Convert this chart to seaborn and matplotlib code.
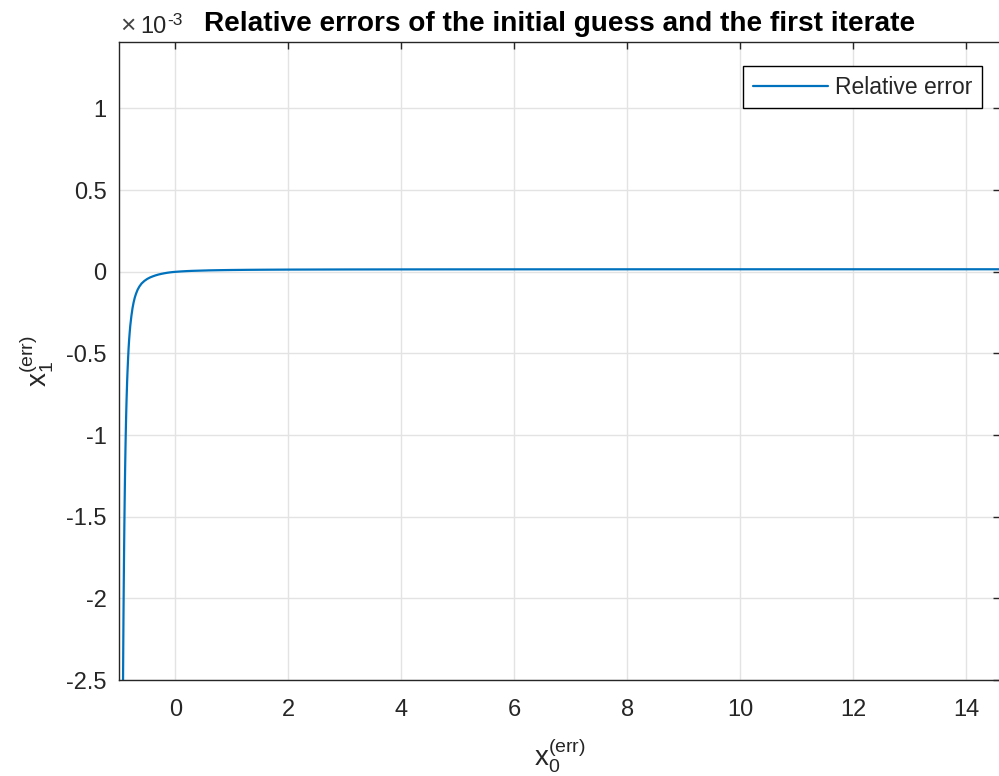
import numpy as np
import pandas as pd
import matplotlib
matplotlib.use("Agg")
import matplotlib.pyplot as plt
import seaborn as sns
from matplotlib.ticker import FuncFormatter, FixedLocator

# Relative error of the initial guess vs. relative error after one iteration
x0_err = [-0.95, -0.94, -0.93, -0.925, -0.92, -0.915, -0.91, -0.905, -0.90,
          -0.895, -0.89, -0.885, -0.88, -0.875, -0.87, -0.865, -0.86, -0.855,
          -0.85, -0.84, -0.83, -0.82, -0.81, -0.80, -0.78, -0.76, -0.74,
          -0.72, -0.70, -0.67, -0.64, -0.60, -0.55, -0.50, -0.45, -0.40,
          -0.35, -0.30, -0.25, -0.20, -0.15, -0.10, -0.05, 0.0, 0.1, 0.2,
          0.3, 0.45, 0.6, 0.8, 1.0, 1.3, 1.6, 2.0, 3.0, 4.0, 6.0, 8.0,
          10.0, 12.0, 14.6]
x1_err = [-6.00e-3, -3.80e-3, -2.60e-3, -2.34e-3, -2.10e-3, -1.90e-3,
          -1.72e-3, -1.56e-3, -1.42e-3, -1.29e-3, -1.18e-3, -1.08e-3,
          -0.99e-3, -0.91e-3, -0.84e-3, -0.775e-3, -0.72e-3, -0.665e-3,
          -0.62e-3, -0.54e-3, -0.47e-3, -0.415e-3, -0.37e-3, -0.33e-3,
          -0.27e-3, -0.222e-3, -0.186e-3, -0.158e-3, -0.136e-3, -0.110e-3,
          -0.091e-3, -0.072e-3, -0.056e-3, -0.044e-3, -0.035e-3, -0.028e-3,
          -0.022e-3, -0.017e-3, -0.013e-3, -0.0095e-3, -0.0065e-3,
          -0.004e-3, -0.002e-3, -0.0005e-3, 0.002e-3, 0.004e-3, 0.0055e-3,
          0.007e-3, 0.0085e-3, 0.0098e-3, 0.0108e-3, 0.0118e-3, 0.0125e-3,
          0.0132e-3, 0.0140e-3, 0.0144e-3, 0.0148e-3, 0.0150e-3, 0.0151e-3,
          0.0152e-3, 0.0152e-3]

y_ticks = [-2.5e-3, -2e-3, -1.5e-3, -1e-3, -0.5e-3, 0.0, 0.5e-3, 1e-3]
x_ticks = [0, 2, 4, 6, 8, 10, 12, 14]

df = pd.DataFrame({"x0": x0_err, "x1": x1_err})

sns.set_style("white")
plt.rcParams["font.family"] = ["Liberation Sans", "DejaVu Sans"]
plt.rcParams["mathtext.fontset"] = "custom"
plt.rcParams["mathtext.rm"] = "Liberation Sans"
plt.rcParams["mathtext.it"] = "Liberation Sans"

dark = "#262626"
fig = plt.figure(figsize=(9.99, 7.76), dpi=100)
ax = fig.add_axes([0.1191, 0.1237, 0.8820, 0.8222])

sns.lineplot(data=df, x="x0", y="x1", ax=ax, color="#0072BD", linewidth=1.6,
             label="Relative error", sort=False, estimator=None)

ax.set_xlim(-1.0, 14.6)
ax.set_ylim(-2.5e-3, 1.407e-3)

ax.xaxis.set_major_locator(FixedLocator(x_ticks))
ax.yaxis.set_major_locator(FixedLocator(y_ticks))
ax.xaxis.set_major_formatter(FuncFormatter(lambda v, p: f"{v:g}"))
ax.yaxis.set_major_formatter(FuncFormatter(lambda v, p: f"{v * 1e3:g}"))

ax.grid(True, color="#e3e3e3", linewidth=1.0)
ax.set_axisbelow(True)
for s in ax.spines.values():
    s.set_color(dark)
    s.set_linewidth(1.0)
ax.tick_params(axis="both", direction="in", length=5, width=1.0,
               colors=dark, labelsize=17, top=True, right=True,
               labelcolor=dark)
ax.tick_params(axis="y", pad=9)
ax.tick_params(axis="x", pad=14)

ax.set_xlabel(r"$\mathregular{x_0^{(err)}}$", fontsize=20, color=dark)
ax.set_ylabel(r"$\mathregular{x_1^{(err)}}$", fontsize=20, color=dark)
ax.xaxis.set_label_coords(0.5, -0.088)
ax.yaxis.set_label_coords(-0.072, 0.5)

ax.set_title("Relative errors of the initial guess and the first iterate",
             fontsize=20.2, fontweight="bold", color="black", pad=8)

# exponent marker for the y axis
fig.text(0.1201, 0.9575, "\u00d7", fontsize=19, color="#444444", ha="left",
         va="baseline")
fig.text(0.1401, 0.9575, "10", fontsize=17, color=dark, ha="left",
         va="baseline")
fig.text(0.1671, 0.968, "-3", fontsize=12.5, color=dark, ha="left",
         va="baseline")

leg = ax.legend(loc="upper right", bbox_to_anchor=(0.9797, 0.9624),
                borderaxespad=0, fontsize=16.5, handlelength=3.3,
                handletextpad=0.3, borderpad=0.42, fancybox=False,
                framealpha=1, edgecolor="black")
leg.get_frame().set_linewidth(1.0)
for t in leg.get_texts():
    t.set_color(dark)

fig.savefig("out.png", dpi=100)
